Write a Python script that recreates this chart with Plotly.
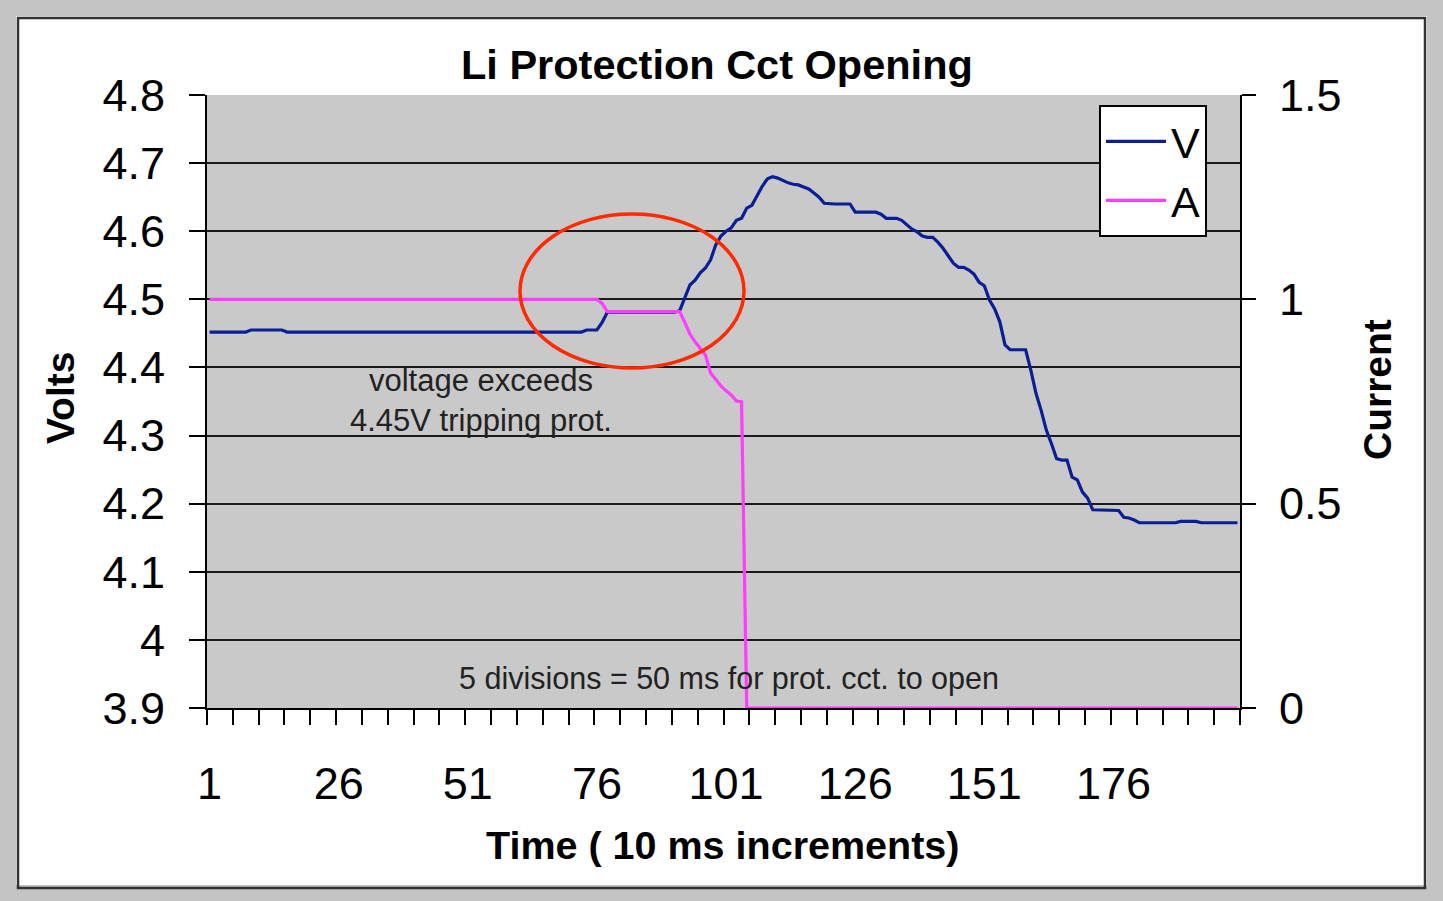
import plotly.graph_objects as go

# ---------------- data ----------------
time_idx = list(range(1, 201))

volts = [
    4.452, 4.452, 4.452, 4.452, 4.452, 4.452, 4.452, 4.452,
    4.455, 4.455, 4.455, 4.455, 4.455, 4.455, 4.455,
    4.452, 4.452, 4.452, 4.452, 4.452, 4.452, 4.452, 4.452, 4.452, 4.452,
    4.452, 4.452, 4.452, 4.452, 4.452, 4.452, 4.452, 4.452, 4.452, 4.452,
    4.452, 4.452, 4.452, 4.452, 4.452, 4.452, 4.452, 4.452, 4.452, 4.452,
    4.452, 4.452, 4.452, 4.452, 4.452, 4.452, 4.452, 4.452, 4.452, 4.452,
    4.452, 4.452, 4.452, 4.452, 4.452, 4.452, 4.452, 4.452, 4.452, 4.452,
    4.452, 4.452, 4.452, 4.452, 4.452, 4.452, 4.452, 4.452,
    4.455, 4.455, 4.455,
    4.466,
    4.481, 4.481, 4.481, 4.481, 4.481, 4.481, 4.481, 4.481, 4.481, 4.481,
    4.481, 4.481, 4.481, 4.481,
    4.483,
    4.502, 4.521, 4.528, 4.539, 4.546, 4.558, 4.580, 4.593, 4.600, 4.605,
    4.616, 4.619, 4.634, 4.638, 4.652, 4.666, 4.677, 4.680, 4.678, 4.674,
    4.671, 4.669, 4.668, 4.665, 4.662, 4.656, 4.650, 4.641,
    4.640, 4.640, 4.640, 4.640, 4.640,
    4.628, 4.628, 4.628, 4.628, 4.628,
    4.625,
    4.619, 4.619, 4.619,
    4.616, 4.609, 4.603, 4.599, 4.593, 4.591, 4.591, 4.584, 4.575, 4.564,
    4.553, 4.547, 4.547, 4.543, 4.537, 4.525, 4.520,
    4.499, 4.486, 4.467, 4.433,
    4.426, 4.426, 4.426, 4.426,
    4.396, 4.362, 4.337, 4.308, 4.288, 4.266, 4.264, 4.264, 4.239, 4.235,
    4.217, 4.208,
    4.191, 4.191, 4.191, 4.191, 4.191,
    4.190, 4.180, 4.179, 4.176,
    4.172, 4.172, 4.172, 4.172, 4.172, 4.172, 4.172, 4.172,
    4.174, 4.174, 4.174, 4.174,
    4.172, 4.172, 4.172, 4.172, 4.172, 4.172, 4.172, 4.172,
]

amps = [
    1.0, 1.0, 1.0, 1.0, 1.0, 1.0, 1.0, 1.0, 1.0, 1.0,
    1.0, 1.0, 1.0, 1.0, 1.0, 1.0, 1.0, 1.0, 1.0, 1.0,
    1.0, 1.0, 1.0, 1.0, 1.0, 1.0, 1.0, 1.0, 1.0, 1.0,
    1.0, 1.0, 1.0, 1.0, 1.0, 1.0, 1.0, 1.0, 1.0, 1.0,
    1.0, 1.0, 1.0, 1.0, 1.0, 1.0, 1.0, 1.0, 1.0, 1.0,
    1.0, 1.0, 1.0, 1.0, 1.0, 1.0, 1.0, 1.0, 1.0, 1.0,
    1.0, 1.0, 1.0, 1.0, 1.0, 1.0, 1.0, 1.0, 1.0, 1.0,
    1.0, 1.0, 1.0, 1.0, 1.0, 1.0,
    0.99,
    0.97, 0.97, 0.97, 0.97, 0.97, 0.97, 0.97, 0.97, 0.97, 0.97,
    0.97, 0.97, 0.97, 0.97, 0.97,
    0.944, 0.915, 0.896, 0.881, 0.864, 0.820, 0.803, 0.788, 0.776, 0.766,
    0.751, 0.749,
    0, 0, 0, 0, 0, 0, 0, 0, 0, 0,
    0, 0, 0, 0, 0, 0, 0, 0, 0, 0,
    0, 0, 0, 0, 0, 0, 0, 0, 0, 0,
    0, 0, 0, 0, 0, 0, 0, 0, 0, 0,
    0, 0, 0, 0, 0, 0, 0, 0, 0, 0,
    0, 0, 0, 0, 0, 0, 0, 0, 0, 0,
    0, 0, 0, 0, 0, 0, 0, 0, 0, 0,
    0, 0, 0, 0, 0, 0, 0, 0, 0, 0,
    0, 0, 0, 0, 0, 0, 0, 0, 0, 0,
    0, 0, 0, 0, 0, 0,
]

x_tick_vals = [1, 26, 51, 76, 101, 126, 151, 176]
x_tick_text = ["1", "26", "51", "76", "101", "126", "151", "176"]
v_tick_vals = [3.9, 4.0, 4.1, 4.2, 4.3, 4.4, 4.5, 4.6, 4.7, 4.8]
v_tick_text = ["3.9", "4", "4.1", "4.2", "4.3", "4.4", "4.5", "4.6", "4.7", "4.8"]
a_tick_vals = [0, 0.5, 1.0, 1.5]
a_tick_text = ["0", "0.5", "1", "1.5"]

title_text = "Li Protection Cct Opening"
x_title = "Time ( 10 ms increments)"
v_title = "Volts"
a_title = "Current"
note_trip = "voltage exceeds<br>4.45V tripping prot."
note_open = "5 divisions = 50 ms for prot. cct. to open"

# ---------------- figure ----------------
W, H = 1443, 901
L, R, T, B = 207, 1240, 95, 708
pw, ph = R - L, B - T


def px(xp):
    return (xp - L) / pw


def py(yp):
    return (B - yp) / ph


FONT = "Liberation Sans, Arial, sans-serif"

fig = go.Figure()
fig.add_trace(go.Scatter(x=time_idx, y=volts, name="V", mode="lines",
                         line=dict(color="#0a1e96", width=3.2)))
fig.add_trace(go.Scatter(x=time_idx, y=amps, name="A", mode="lines", yaxis="y2",
                         line=dict(color="#ff3cff", width=3.2)))

fig.update_layout(
    width=W, height=H,
    margin=dict(l=L, r=W - R, t=T, b=H - B, pad=0),
    paper_bgcolor="white",
    plot_bgcolor="#c9c9c9",
    font=dict(family=FONT, color="black"),
    showlegend=True,
    legend=dict(x=px(1099), y=py(105), xanchor="left", yanchor="top",
                bgcolor="white", bordercolor="black", borderwidth=2,
                font=dict(size=43, family=FONT), itemwidth=60,
                tracegroupgap=0),
    xaxis=dict(range=[0.5, 200.5], showgrid=False, zeroline=False,
               tickmode="array", tickvals=x_tick_vals, ticktext=x_tick_text,
               ticks="outside", ticklen=0, tickcolor="rgba(0,0,0,0)",
               ticklabelstandoff=35,
               tickfont=dict(size=45, family=FONT),
               showline=True, linecolor="black", linewidth=2,
               minor=dict(tickmode="linear", tick0=0.5, dtick=5, ticks="outside",
                          ticklen=15, tickwidth=2, tickcolor="black", showgrid=False)),
    yaxis=dict(range=[3.9, 4.8], tickmode="array", tickvals=v_tick_vals,
               ticktext=v_tick_text, showgrid=True, gridcolor="#1a1a1a",
               gridwidth=2, zeroline=False, ticks="outside", ticklen=16,
               tickwidth=2, tickcolor="black", ticklabelstandoff=15,
               tickfont=dict(size=45, family=FONT),
               showline=True, linecolor="black", linewidth=2),
    yaxis2=dict(range=[0, 1.5], overlaying="y", side="right", tickmode="array",
                tickvals=a_tick_vals, ticktext=a_tick_text, showgrid=False,
                zeroline=False, ticks="outside", ticklen=14, tickwidth=2,
                tickcolor="black", ticklabelstandoff=14,
                tickfont=dict(size=45, family=FONT),
                showline=True, linecolor="black", linewidth=2),
)

# title and axis titles
fig.add_annotation(text="<b>" + title_text + "</b>", xref="paper", yref="paper",
                   x=px(717), y=py(65), showarrow=False, xanchor="center",
                   yanchor="middle", font=dict(size=41.5, family=FONT))
fig.add_annotation(text="<b>" + x_title + "</b>", xref="paper", yref="paper",
                   x=px(722), y=py(845), showarrow=False, xanchor="center",
                   yanchor="middle", font=dict(size=39.5, family=FONT))
fig.add_annotation(text="<b>" + v_title + "</b>", xref="paper", yref="paper",
                   x=px(60), y=py(398), showarrow=False, textangle=-90,
                   xanchor="center", yanchor="middle", font=dict(size=39, family=FONT))
fig.add_annotation(text="<b>" + a_title + "</b>", xref="paper", yref="paper",
                   x=px(1377), y=py(390), showarrow=False, textangle=-90,
                   xanchor="center", yanchor="middle", font=dict(size=39, family=FONT))

# notes
fig.add_annotation(text=note_trip, xref="paper", yref="paper",
                   x=px(481), y=py(400), showarrow=False, xanchor="center",
                   yanchor="middle", font=dict(size=31, family=FONT, color="#222"))
fig.add_annotation(text=note_open, xref="paper", yref="paper",
                   x=px(729), y=py(678), showarrow=False, xanchor="center",
                   yanchor="middle", font=dict(size=30.5, family=FONT, color="#222"))

# red ellipse
fig.add_shape(type="circle", xref="paper", yref="paper",
              x0=px(520), x1=px(744), y0=py(368), y1=py(214),
              line=dict(color="#ff2a00", width=3.5), layer="above")

# frame around the chart
fig.add_shape(type="rect", xref="paper", yref="paper",
              x0=px(0), x1=px(W), y0=py(H), y1=py(0),
              line=dict(color="#c4c4c4", width=32), layer="above")
fig.add_shape(type="rect", xref="paper", yref="paper",
              x0=px(18), x1=px(1425), y0=py(888), y1=py(18),
              line=dict(color="#333333", width=2.5), layer="above")

fig.write_html("out.html", config={"displayModeBar": False},
               post_script="document.body.style.margin='0';document.body.style.overflow='hidden';")
